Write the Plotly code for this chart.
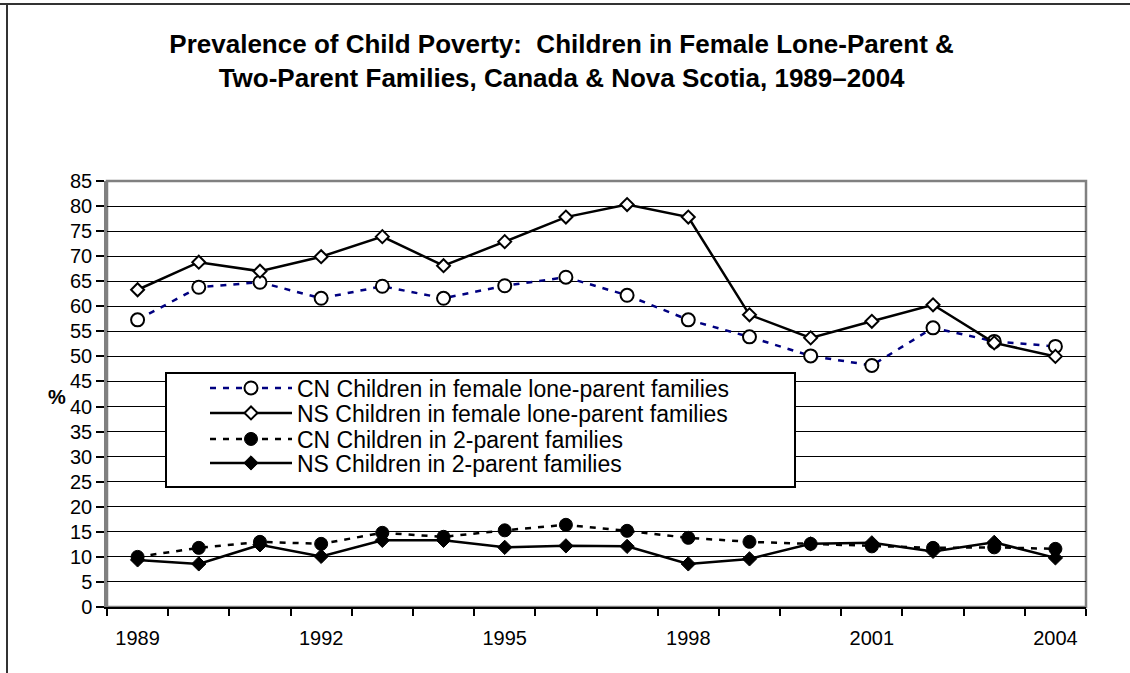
import plotly.graph_objects as go

# Survey years (one category per year)
years = list(range(1989, 2005))
label_years = [1989, 1992, 1995, 1998, 2001, 2004]
y_ticks = list(range(0, 90, 5))

# Poverty rates, %
cn_lone = [57.3, 63.8, 64.8, 61.6, 64.0, 61.6, 64.1, 65.8, 62.2, 57.3, 53.9, 50.1, 48.2, 55.7, 53.0, 52.0]
ns_lone = [63.3, 68.8, 67.0, 69.9, 73.9, 68.1, 72.9, 77.8, 80.3, 77.8, 58.3, 53.7, 57.0, 60.3, 52.7, 50.0]
cn_two = [10.0, 11.8, 13.0, 12.6, 14.8, 14.0, 15.3, 16.4, 15.2, 13.8, 13.0, 12.6, 12.1, 11.8, 11.9, 11.6]
ns_two = [9.4, 8.6, 12.4, 10.1, 13.3, 13.3, 11.9, 12.2, 12.1, 8.6, 9.6, 12.6, 12.8, 11.1, 12.9, 9.8]

series_names = [
    "CN Children in female lone-parent families",
    "NS Children in female lone-parent families",
    "CN Children in 2-parent families",
    "NS Children in 2-parent families",
]

FONT = "Liberation Sans, Arial, sans-serif"
W, H = 1130, 673
L, R, T, B = 107, 1086, 181, 607  # plot area in pixels


def px_x(px):
    return (px - L) / (R - L)


def px_y(py):
    return (B - py) / (B - T)


fig = go.Figure()

styles = [
    dict(data=cn_lone, line=dict(color="#000080", width=2.5, dash="6px,7px"),
         marker=dict(symbol="circle", size=13, color="white", line=dict(color="black", width=2))),
    dict(data=ns_lone, line=dict(color="black", width=2.5),
         marker=dict(symbol="diamond", size=10, color="white", line=dict(color="black", width=2))),
    dict(data=cn_two, line=dict(color="black", width=2.5, dash="6px,7px"),
         marker=dict(symbol="circle", size=13, color="black", line=dict(color="black", width=1))),
    dict(data=ns_two, line=dict(color="black", width=2.5),
         marker=dict(symbol="diamond", size=11, color="black", line=dict(color="black", width=1))),
]

legend_rows = [388, 413, 439, 463]
legend_keys = ["legend", "legend2", "legend3", "legend4"]

for name, st, key in zip(series_names, styles, legend_keys):
    fig.add_trace(go.Scatter(
        x=years, y=st["data"], name=name, mode="lines+markers",
        line=st["line"], marker=st["marker"],
        legend=key, showlegend=True, cliponaxis=False,
    ))

legend_common = dict(
    x=px_x(205), xanchor="left", yanchor="middle",
    bgcolor="rgba(0,0,0,0)", borderwidth=0,
    font=dict(family=FONT, size=23, color="black"),
    itemwidth=82, itemclick=False, itemdoubleclick=False,
    visible=True,
)
legends = {key: dict(legend_common, y=px_y(ry)) for key, ry in zip(legend_keys, legend_rows)}
fig.update_layout(showlegend=True, **legends)

shapes = [
    # legend frame
    dict(type="rect", xref="paper", yref="paper",
         x0=px_x(166), x1=px_x(795), y0=px_y(487), y1=px_y(373),
         line=dict(color="black", width=2), fillcolor="white", layer="above"),
    # plot-area border
    dict(type="rect", xref="paper", yref="paper", x0=0, x1=1, y0=0, y1=1,
         line=dict(color="#808080", width=2.5), layer="between"),
    # chart frame (top and left edges)
    dict(type="line", xref="paper", yref="paper",
         x0=px_x(0), x1=px_x(W), y0=px_y(4), y1=px_y(4),
         line=dict(color="#333333", width=2)),
    dict(type="line", xref="paper", yref="paper",
         x0=px_x(7), x1=px_x(7), y0=px_y(4), y1=px_y(H),
         line=dict(color="#333333", width=2)),
]

boundaries = [y - 0.5 for y in years] + [years[-1] + 0.5]

fig.update_layout(
    width=W, height=H,
    margin=dict(l=L, r=W - R, t=T, b=H - B, pad=0),
    paper_bgcolor="white", plot_bgcolor="white",
    font=dict(family=FONT, color="black"),
    title=dict(
        text="Prevalence of Child Poverty:  Children in Female Lone-Parent &<br>"
             "Two-Parent Families, Canada & Nova Scotia, 1989\u20132004",
        x=0.497, xanchor="center", y=1 - 53 / H, yanchor="middle",
        font=dict(family=FONT, size=26, color="black", weight="bold"),
    ),
    xaxis=dict(
        range=[years[0] - 0.5, years[-1] + 0.5],
        tickmode="array", tickvals=label_years,
        ticktext=[str(y) for y in label_years],
        ticks="", ticklabelstandoff=12,
        tickfont=dict(family=FONT, size=20, color="black"),
        showgrid=False, zeroline=False,
        showline=True, linecolor="black", linewidth=1.5,
        minor=dict(tickmode="array", tickvals=boundaries, ticks="outside",
                   ticklen=7, tickwidth=1.5, tickcolor="black", showgrid=False),
        fixedrange=True,
    ),
    yaxis=dict(
        range=[0, 85], tickmode="array", tickvals=y_ticks,
        ticks="outside", ticklen=8, tickwidth=1.5, tickcolor="black",
        tickfont=dict(family=FONT, size=20, color="black"),
        showgrid=True, gridcolor="black", gridwidth=1,
        zeroline=False, showline=True, linecolor="#808080", linewidth=2.5,
        fixedrange=True,
    ),
    annotations=[
        dict(text="<b>%</b>", xref="paper", yref="paper",
             x=px_x(57), y=px_y(397), xanchor="center", yanchor="middle",
             showarrow=False,
             font=dict(family=FONT, size=20, color="black")),
    ],
    shapes=shapes,
)

fig.write_html("out.html")
